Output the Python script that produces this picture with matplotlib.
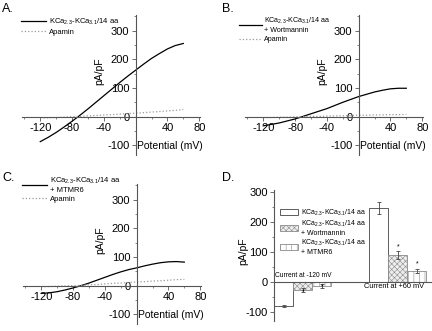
import numpy as np
import matplotlib.pyplot as plt

# membrane potential (mV) for the I-V curves
volts = [-120, -110, -100, -90, -80, -70, -60, -50, -40, -30, -20, -10,
         0, 10, 20, 30, 40, 50, 60]

# panel A
a_ctrl = [-87, -72, -55, -36, -16, 5, 27, 50, 73, 96, 119, 141,
          162, 183, 203, 220, 236, 248, 255]
a_apamin = [-5, -4, -3, -2, 0, 1, 3, 4, 6, 7, 9, 11, 12, 14, 16, 18, 20, 22, 25]

# panel B
b_ctrl = [-32, -27, -22, -15, -8, 1, 10, 19, 28, 39, 50, 60,
          70, 78, 86, 92, 97, 99, 99]
b_apamin = [-3, -3, -2, -2, -1, 0, 1, 1, 2, 3, 3, 4, 5, 5, 6, 6, 7, 7, 8]

# panel C
c_ctrl = [-27, -25, -21, -15, -8, 0, 9, 19, 29, 39, 48, 56,
          62, 69, 75, 80, 83, 84, 82]
c_apamin = [-4, -3, -2, -1, 0, 1, 3, 4, 6, 8, 9, 11, 13, 14, 16, 17, 19, 21, 22]

# panel D
groups = ['Current at -120 mV', 'Current at +60 mV']
d_ctrl = [-82, 247]
d_wort = [-27, 89]
d_mtmr6 = [-14, 36]
d_ctrl_err = [3, 20]
d_wort_err = [7, 12]
d_mtmr6_err = [6, 8]

kca = r'KCa$_{2.3}$-KCa$_{3.1}$/14 aa'
ctrl_labels = [kca, kca + '\n+ Wortmannin', kca + '\n+ MTMR6']

plt.rcParams['font.family'] = 'Liberation Sans'
plt.rcParams['mathtext.default'] = 'regular'
plt.rcParams['axes.unicode_minus'] = False
plt.rcParams['hatch.linewidth'] = 0.4

fig = plt.figure(figsize=(4.32, 3.31), dpi=100)
W, H = 432.0, 331.0


def iv_panel(rect, ctrl, apamin, ctrl_label, letter, letter_xy, leg_xy,
             leg_size=5.5):
    ax = fig.add_axes(rect)
    ax.plot(volts, ctrl, color='black', lw=0.9, label=ctrl_label)
    ax.plot(volts, apamin, color='#9a9a9a', lw=0.9, ls=':', label='Apamin')
    ax.set_xlim(-143, 81)
    ax.set_ylim(-135, 355)
    ax.spines['left'].set_position(('data', 0))
    ax.spines['bottom'].set_position(('data', 0))
    ax.spines['top'].set_visible(False)
    ax.spines['right'].set_visible(False)
    for s in ['left', 'bottom']:
        ax.spines[s].set_color('#555555')
        ax.spines[s].set_linewidth(0.8)
    ax.set_xticks([-120, -80, -40, 40, 80])
    ax.set_xticks(np.arange(-140, 81, 20), minor=True)
    ax.set_yticks([-100, 0, 100, 200, 300])
    ax.set_yticks(np.arange(-100, 351, 50), minor=True)
    ax.tick_params(labelsize=8, length=3, width=0.6, color='#555555', pad=1.5)
    ax.tick_params(which='minor', length=1.5, width=0.5, color='#555555')
    ax.set_xlabel('Potential (mV)', fontsize=7.5)
    ax.xaxis.set_label_coords(0.83, 0.10)
    ax.set_ylabel('pA/pF', fontsize=7.5)
    ax.yaxis.set_label_coords(0.46, 0.60)
    ax.legend(loc='upper left', bbox_to_anchor=leg_xy, frameon=False,
              fontsize=leg_size, handlelength=3.2, handletextpad=0.4,
              labelspacing=0.25, borderaxespad=0)
    fig.text(letter_xy[0] / W, 1 - letter_xy[1] / H, letter, fontsize=9,
             va='center', ha='left')
    return ax


iv_panel([22 / W, 1 - 155.4 / H, 178 / W, 140.6 / H], a_ctrl, a_apamin,
         ctrl_labels[0], 'A.', (2, 9), (-0.02, 1.01))
iv_panel([245 / W, 1 - 155.4 / H, 178 / W, 140.6 / H], b_ctrl, b_apamin,
         ctrl_labels[1], 'B.', (222, 9), (-0.05, 1.01), 5.1)
iv_panel([23 / W, 1 - 324.4 / H, 178 / W, 140.6 / H], c_ctrl, c_apamin,
         ctrl_labels[2], 'C.', (2, 178), (-0.02, 1.08))

# panel D
axd = fig.add_axes([274.3 / W, 1 - 320.7 / H, 157.7 / W, 130.5 / H])
centers = np.array([0.5, 5.5])
ekw = dict(elinewidth=0.6, capsize=1.2, capthick=0.6, ecolor='#444444')
axd.bar(centers, d_ctrl, width=1.0, color='white', edgecolor='#444444',
        lw=0.6, yerr=d_ctrl_err, error_kw=ekw, label=ctrl_labels[0])
axd.bar(centers + 1, d_wort, width=1.0, color='#eeeeee',
        edgecolor='#8a8a8a', lw=0.6, hatch='xxxxxx', yerr=d_wort_err,
        error_kw=ekw, label=ctrl_labels[1])
axd.bar(centers + 2, d_mtmr6, width=1.0, color='white',
        edgecolor='#8a8a8a', lw=0.6, hatch='|||', yerr=d_mtmr6_err,
        error_kw=ekw, label=ctrl_labels[2])

# significance marks
for vals, errs, xs in [(d_wort, d_wort_err, centers + 1),
                       (d_mtmr6, d_mtmr6_err, centers + 2)]:
    for v, e, x in zip(vals, errs, xs):
        y = v + e + 4 if v > 0 else v - e - 10
        axd.text(x, y, '*', fontsize=5, ha='center', va='bottom')

axd.set_xlim(0, 8.3)
axd.set_ylim(-130, 305)
axd.spines['bottom'].set_position(('data', 0))
axd.spines['top'].set_visible(False)
axd.spines['right'].set_visible(False)
for s in ['left', 'bottom']:
    axd.spines[s].set_color('#555555')
    axd.spines[s].set_linewidth(0.8)
axd.set_xticks([])
axd.set_yticks([-100, 0, 100, 200, 300])
axd.set_yticks(np.arange(-100, 301, 50), minor=True)
axd.tick_params(labelsize=8, length=3, width=0.6, color='#555555', pad=1.5)
axd.tick_params(which='minor', length=1.5, width=0.5, color='#555555')
axd.set_ylabel('pA/pF', fontsize=7.5)
axd.yaxis.set_label_coords(-0.167, 0.53)
axd.text(0.05, 8, groups[0], fontsize=4.8, ha='left', va='bottom')
axd.text(6.3, -6, groups[1], fontsize=5.3, ha='center', va='top')
axd.legend(loc='upper left', bbox_to_anchor=(0.02, 0.89), frameon=False,
           fontsize=5, handlelength=2.6, handleheight=0.9, handletextpad=0.4,
           labelspacing=0.15, borderaxespad=0)
fig.text(222 / W, 1 - 178 / H, 'D.', fontsize=9, va='center', ha='left')

fig.savefig('out.png', dpi=100)
